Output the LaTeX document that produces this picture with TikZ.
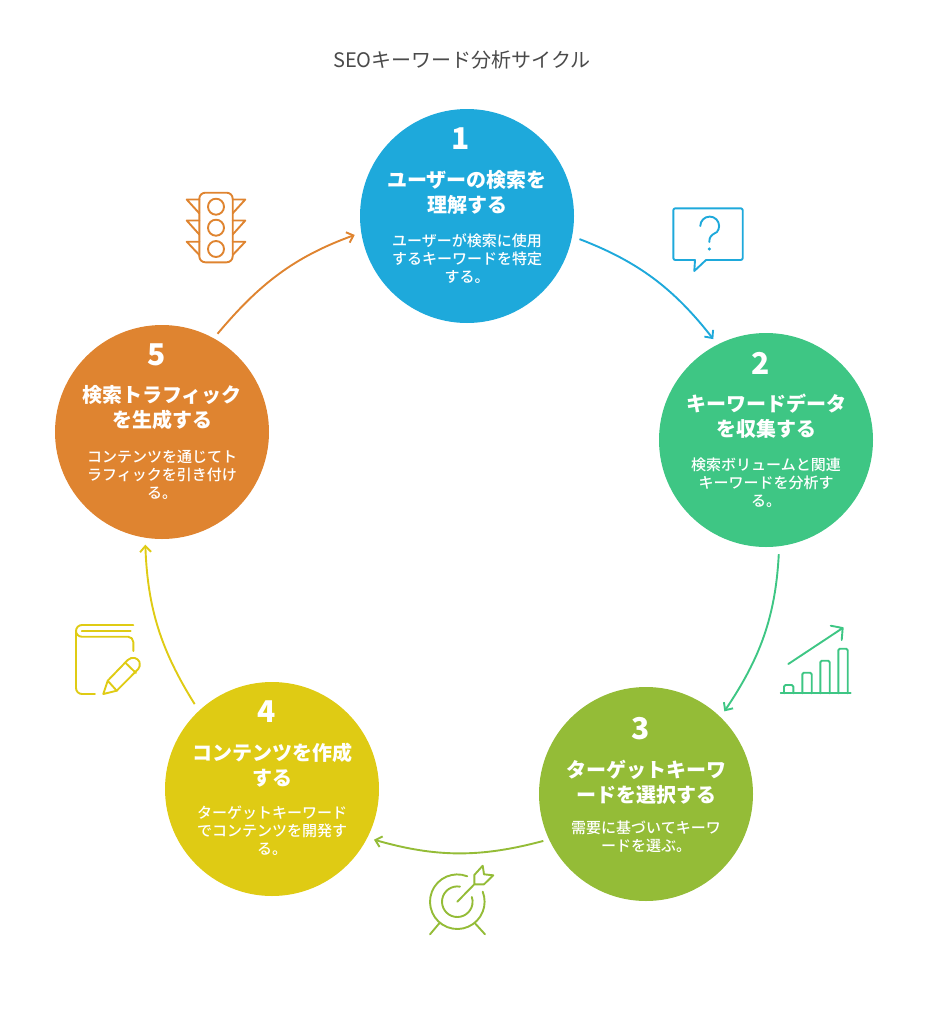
\documentclass[tikz,border=0pt]{standalone}
\usepackage{fontspec}
\setmainfont{Noto Sans CJK JP}
\newfontfamily\cjkmedium{Noto Sans CJK JP Medium}
\usetikzlibrary{arrows}
\usetikzlibrary{arrows.meta}
\usetikzlibrary{positioning}

\definecolor{stepblue}{HTML}{1EA9DB}
\definecolor{stepgreen}{HTML}{3EC684}
\definecolor{stepolive}{HTML}{94BC37}
\definecolor{stepyellow}{HTML}{DFCB14}
\definecolor{steporange}{HTML}{DF8430}
\definecolor{titlegray}{HTML}{4A4A4A}

\begin{document}
\begin{tikzpicture}[x=1pt,y=1pt,on grid,
  ->,>={Straight Barb[length=6pt,width=11pt]},line width=1.9pt]

  \tikzstyle{stepcircle}=[circle,draw=none,minimum size=214pt,inner sep=0pt];
  \tikzstyle{numlabel}=[text=white,font=\fontsize{30}{30}\selectfont\bfseries];
  \tikzstyle{headlabel}=[text=white,align=center,font=\fontsize{20}{25}\selectfont\bfseries];
  \tikzstyle{bodylabel}=[text=white,align=center,font=\fontsize{15}{18}\selectfont\cjkmedium];
  \tikzstyle{icon}=[-,line width=1.9pt,line cap=round,line join=round];

  \useasboundingbox (0,0) rectangle (924,-1020);

  \node[text=titlegray,font=\fontsize{20}{20}\selectfont] (chart) at (462,-60) {SEOキーワード分析サイクル};

  \node[stepcircle,fill=stepblue] (step1) at (467,-216) {};
  \node[stepcircle,fill=stepgreen] (step2) [below right=224pt and 299pt of step1] {};
  \node[stepcircle,fill=stepolive] (step3) [below left=354pt and 120pt of step2] {};
  \node[stepcircle,fill=stepyellow] (step4) [left=374pt of step3,yshift=5pt] {};
  \node[stepcircle,fill=steporange] (step5) [above left=357pt and 110pt of step4] {};

  \node[numlabel] (num1) [above left=77pt and 6pt of step1] {1};
  \node[headlabel] (head1) [above=24pt of step1] {ユーザーの検索を\\理解する};
  \node[bodylabel] (body1) [below=43pt of step1] {ユーザーが検索に使用\\するキーワードを特定\\する。};

  \node[numlabel] (num2) [above left=77pt and 5pt of step2] {2};
  \node[headlabel] (head2) [above=24pt of step2] {キーワードデータ\\を収集する};
  \node[bodylabel] (body2) [below=43pt of step2] {検索ボリュームと関連\\キーワードを分析す\\る。};

  \node[numlabel] (num3) [above left=65pt and 5pt of step3] {3};
  \node[headlabel] (head3) [above=12pt of step3] {ターゲットキーワ\\ードを選択する};
  \node[bodylabel] (body3) [below=43pt of step3] {需要に基づいてキーワ\\ードを選ぶ。};

  \node[numlabel] (num4) [above left=77pt and 5pt of step4] {4};
  \node[headlabel] (head4) [above=24pt of step4] {コンテンツを作成\\する};
  \node[bodylabel] (body4) [below=42pt of step4] {ターゲットキーワード\\でコンテンツを開発す\\る。};

  \node[numlabel] (num5) [above left=77pt and 5pt of step5] {5};
  \node[headlabel] (head5) [above=24pt of step5] {検索トラフィック\\を生成する};
  \node[bodylabel] (body5) [below=43pt of step5] {コンテンツを通じてト\\ラフィックを引き付け\\る。};

  \draw[stepblue,shorten <=7pt,shorten >=6pt] (step1.-11) to[out=-21,in=128] (step2.117);
  \draw[stepgreen,shorten <=7pt,shorten >=6pt] (step2.-83) to[out=-93,in=56] (step3.46);
  \draw[stepolive,shorten <=5pt,shorten >=6pt] (step3.-155) to[out=195,in=-16] (step4.-27);
  \draw[stepyellow,shorten <=7pt,shorten >=6pt] (step4.133) to[out=122,in=-88] (step5.-99);
  \draw[steporange,shorten <=5pt,shorten >=6pt] (step5.61) to[out=50,in=200] (step1.-171);

  % traffic light
  \draw[icon,steporange,rounded corners=6pt] (199.3,-192.7) rectangle (232.7,-262.3);
  \draw[icon,steporange] (216,-206.7) circle (8) (216,-227.7) circle (8) (216,-249) circle (8);
  \draw[icon,steporange] (199.3,-199.5) -- (186.7,-199.5) -- (199.3,-213.3)
    (199.3,-220.5) -- (186.7,-220.5) -- (199.3,-234.5)
    (199.3,-241.7) -- (186.7,-241.7) -- (199.3,-255)
    (232.7,-199.5) -- (245.3,-199.5) -- (232.7,-213.3)
    (232.7,-220.5) -- (245.3,-220.5) -- (232.7,-234.5)
    (232.7,-241.7) -- (245.3,-241.7) -- (232.7,-255);

  % question bubble
  \draw[icon,stepblue,rounded corners=2pt] (695,-260) -- (673.3,-260) -- (673.3,-208.3) -- (742.7,-208.3) -- (742.7,-260) -- (706,-260);
  \draw[icon,stepblue] (695,-260) -- (694.3,-271) -- (706,-260);
  \draw[icon,stepblue] (700.3,-226) arc (180:-40:9.4) .. controls (711,-235) and (709.3,-237) .. (709.3,-242);
  \fill[stepblue] (709.3,-249) circle (1.7);

  % bar chart
  \draw[icon,stepgreen] (780.7,-693.3) -- (850.7,-693.3);
  \draw[icon,stepgreen,rounded corners=1.5pt] (784,-693.3) -- (784,-685) -- (793.3,-685) -- (793.3,-693.3);
  \draw[icon,stepgreen,rounded corners=1.5pt] (802.3,-693.3) -- (802.3,-672.7) -- (811.7,-672.7) -- (811.7,-693.3);
  \draw[icon,stepgreen,rounded corners=1.5pt] (820.3,-693.3) -- (820.3,-660.7) -- (829.7,-660.7) -- (829.7,-693.3);
  \draw[icon,stepgreen,rounded corners=1.5pt] (838.3,-693.3) -- (838.3,-648.7) -- (847.7,-648.7) -- (847.7,-693.3);
  \draw[icon,stepgreen] (788.3,-664) -- (842.7,-628) (830.7,-625.7) -- (842.7,-628) -- (841.7,-640);

  % target
  \draw[icon,stepolive] (457.3,-901.7) ++(68.7:27.3) arc (68.7:381.5:27.3);
  \draw[icon,stepolive] (457.3,-901.7) ++(80:15.3) arc (80:378:15.3);
  \draw[icon,stepolive] (457.3,-901.7) -- (474.3,-884.3) -- (474.3,-875) -- (482.7,-865.7) -- (484,-874.3) -- (493.3,-875.3) -- (484,-884.3) -- (474.3,-884.3);
  \draw[icon,stepolive] (439.3,-923.3) -- (430,-934.3) (475,-923.3) -- (485,-934.3);

  % book and pencil
  \draw[icon,stepyellow] (133.3,-625) -- (82,-625) arc (90:180:6) -- (76,-688) arc (180:270:6) -- (95,-694);
  \draw[icon,stepyellow] (130.7,-631) -- (81.7,-631) (76,-631) arc (180:270:5.7) -- (128,-636.7) arc (90:0:5.3) -- (133.3,-651);
  \draw[icon,stepyellow] (107.7,-680.7) -- (103.3,-694) -- (116.7,-690.7) -- cycle;
  \draw[icon,stepyellow] (107.7,-680.7) -- (127.7,-660) .. controls (132,-656) and (138,-658) .. (139.5,-662) .. controls (140.5,-665) and (139.5,-667.5) .. (138.3,-669) -- (116.7,-690.7);
  \draw[icon,stepyellow] (125.3,-662.7) -- (136,-673);

\end{tikzpicture}
\end{document}
